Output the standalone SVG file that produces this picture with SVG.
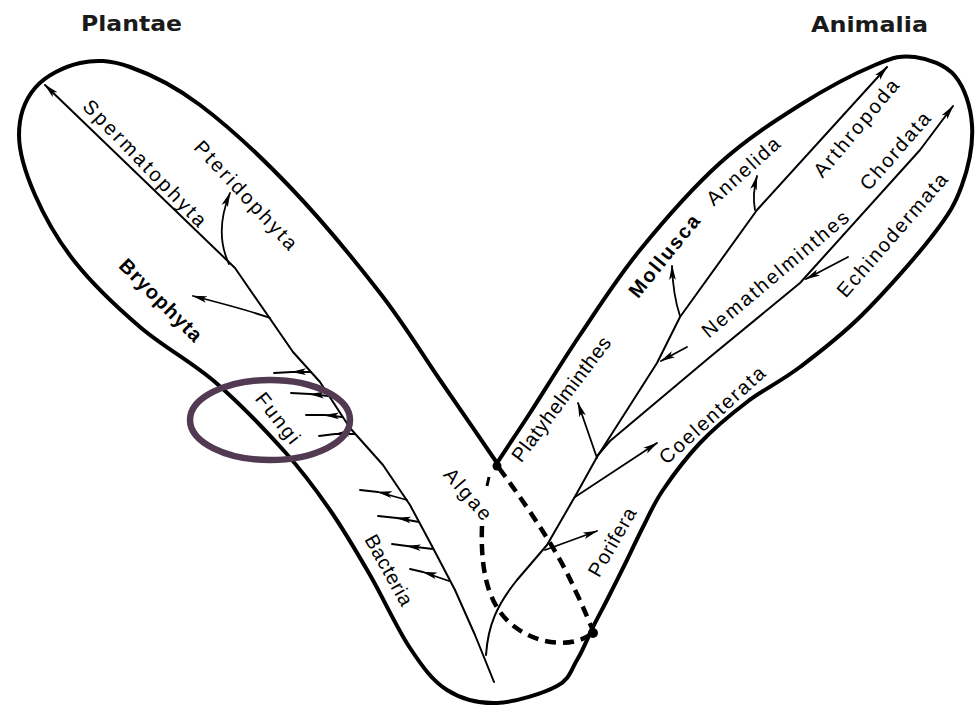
<svg xmlns="http://www.w3.org/2000/svg" width="976" height="706" viewBox="0 0 976 706">
<style>
.ol{fill:none;stroke:#000;stroke-width:4;stroke-linejoin:round;stroke-linecap:round}
.ax{fill:none;stroke:#000;stroke-width:2;stroke-linejoin:round;stroke-linecap:round}
.br{fill:none;stroke:#000;stroke-width:1.8;stroke-linejoin:round;stroke-linecap:round}
.dash{fill:none;stroke:#000;stroke-width:4.5;stroke-dasharray:11 7}
.ae{marker-end:url(#ah)}
.am{marker-mid:url(#ah)}
.lb{font-family:"Liberation Sans",Arial,sans-serif;font-size:20px;fill:#000;text-anchor:middle;dominant-baseline:central}
.tt{font-family:"DejaVu Sans","Liberation Sans",sans-serif;font-size:21px;font-weight:bold;fill:#1a1a1a}
</style>
<defs>
<marker id="ah" viewBox="0 0 15 8" markerWidth="15" markerHeight="8" refX="14" refY="4" orient="auto" markerUnits="userSpaceOnUse">
<path d="M0,0.6 L15,4 L0,7.4 L3.5,4 Z" fill="#000"/>
</marker>
</defs>
<rect width="976" height="706" fill="#fff"/>

<g id="outline">
<path class="ol" d="M497,703 C478.7,703.7 461.5,699.2 447,690 C432.5,680.8 422.8,667.2 410,648 C397.2,628.8 383.3,598 370,575 C356.7,552 344.2,530.5 330,510 C315.8,489.5 304.2,473.3 285,452 C265.8,430.7 239.2,402.8 215,382 C190.8,361.2 163.3,347 140,327 C116.7,307 92.5,284 75,262 C57.5,240 44.3,216.2 35,195 C25.7,173.8 19,152.8 19,135 C19,117.2 24.8,100 35,88 C45.2,76 64.2,66.5 80,63 C95.8,59.5 110,60 130,67 C150,74 173.3,85 200,105 C226.7,125 260,155.7 290,187 C320,218.3 355,260.8 380,293 C405,325.2 420.5,351.7 440,380 C459.5,408.3 478,435 497,463 C508,446 516.2,434.3 530,413 C543.8,391.7 561.7,362.2 580,335 C598.3,307.8 616.7,278.7 640,250 C663.3,221.3 693.3,187.2 720,163 C746.7,138.8 774.2,121.3 800,105 C825.8,88.7 855.8,73 875,65 C894.2,57 901.7,55.2 915,57 C928.3,58.8 945.5,64.7 955,76 C964.5,87.3 970.8,106.8 972,125 C973.2,143.2 968.5,166.7 962,185 C955.5,203.3 949.7,213.3 933,235 C916.3,256.7 884.2,293 862,315 C839.8,337 819.2,352.5 800,367 C780.8,381.5 763.7,389.3 747,402 C730.3,414.7 714,428.3 700,443 C686,457.7 672.5,476 663,490 C653.5,504 649,515.3 643,527 C637,538.7 633,547.8 627,560 C621,572.2 612.7,588.8 607,600 C601.3,611.2 598,617 593,627 C588,637 583,650.2 577,660 C571,669.8 570.3,678.8 557,686 C543.7,693.2 515.3,702.3 497,703 Z"/>
<circle cx="497" cy="466" r="4.5"/>
<circle cx="593" cy="633" r="5"/>
</g>

<g id="connectors">
<!-- plant axis -->
<polyline class="ax ae" points="494,682 475,635 455,590 433,548 410,505 383,465 350,428 320,382 293,352 235,268 45,85"/>
<path class="br ae" d="M229,264 Q214,232 230,193"/>
<path class="br ae" d="M270,318 Q248,310 193,296"/>
<!-- fungi -->
<polyline class="br am" points="311,372 292,372 274,373"/>
<polyline class="br am" points="328,396 310,394 291,393"/>
<polyline class="br am" points="342,417 325,415 306,415"/>
<polyline class="br am" points="355,434 335,434 319,436"/>
<!-- bacteria -->
<polyline class="br am" points="407,500 378,492 360,490"/>
<polyline class="br am" points="419,522 397,518 378,516"/>
<polyline class="br am" points="433,549 407,546 392,544"/>
<polyline class="br am" points="449,581 423,572 410,569"/>
<!-- animal axes -->
<path class="ax ae" d="M486,655 C488,625 497,605 517,580 L547,545 L577,493 L597,457 L657,363 L680,317 L757,210 L887,67"/>
<polyline class="ax ae" points="598,455 610,441 710,357 800,283 920,150 953,106"/>
<line class="br ae" x1="545" y1="550" x2="597" y2="531"/>
<line class="br ae" x1="575" y1="497" x2="657" y2="443"/>
<line class="br ae" x1="597" y1="458" x2="578" y2="403"/>
<line class="br ae" x1="687" y1="347" x2="661" y2="361"/>
<path class="br ae" d="M680,316 Q673,295 672,266"/>
<path class="br ae" d="M755,210 Q752,195 757,176"/>
<line class="br ae" x1="848" y1="257" x2="806" y2="279"/>
<!-- dashed algae loop -->
<line x1="489" y1="477" x2="487" y2="486" stroke="#000" stroke-width="3"/>
<path class="dash" d="M482,526 C480,580 492,610 515,627 C540,646 575,648 594,632"/>
<path class="dash" d="M499,468 C530,510 560,555 575,590 C585,610 590,625 594,632"/>
</g>

<g id="labels">
<text class="tt" x="81" y="31" textLength="101" lengthAdjust="spacingAndGlyphs">Plantae</text>
<text class="tt" x="811" y="32" textLength="117" lengthAdjust="spacingAndGlyphs">Animalia</text>
<text class="lb" transform="translate(145,163) rotate(46)" textLength="168" lengthAdjust="spacing">Spermatophyta</text>
<text class="lb" transform="translate(246,195) rotate(47)" textLength="141" lengthAdjust="spacing">Pteridophyta</text>
<text class="lb" transform="translate(161,300) rotate(45)" textLength="108" lengthAdjust="spacing" font-weight="bold">Bryophyta</text>
<text class="lb" transform="translate(278,418) rotate(52)" textLength="59" lengthAdjust="spacing">Fungi</text>
<text class="lb" transform="translate(389,570) rotate(61)" textLength="78" lengthAdjust="spacing">Bacteria</text>
<text class="lb" transform="translate(468,494) rotate(49)" textLength="62" lengthAdjust="spacing">Algae</text>
<text class="lb" transform="translate(561,399) rotate(-53)" textLength="151" lengthAdjust="spacing">Platyhelminthes</text>
<text class="lb" transform="translate(612,542) rotate(-60)" textLength="76" lengthAdjust="spacing">Porifera</text>
<text class="lb" transform="translate(712,415) rotate(-42)" textLength="135" lengthAdjust="spacing">Coelenterata</text>
<text class="lb" transform="translate(775,274) rotate(-40)" textLength="185" lengthAdjust="spacing">Nemathelminthes</text>
<text class="lb" transform="translate(664,256) rotate(-51)" textLength="100" lengthAdjust="spacing" font-weight="bold">Mollusca</text>
<text class="lb" transform="translate(743,171) rotate(-42)" textLength="91" lengthAdjust="spacing">Annelida</text>
<text class="lb" transform="translate(856,128) rotate(-50)" textLength="121" lengthAdjust="spacing">Arthropoda</text>
<text class="lb" transform="translate(895,151) rotate(-49)" textLength="96" lengthAdjust="spacing">Chordata</text>
<text class="lb" transform="translate(892,235) rotate(-49)" textLength="157" lengthAdjust="spacing">Echinodermata</text>
</g>

<g id="highlight">
<ellipse cx="270" cy="420" rx="80" ry="40" fill="none" stroke="#523a52" stroke-width="6.5"/>
</g>
</svg>
